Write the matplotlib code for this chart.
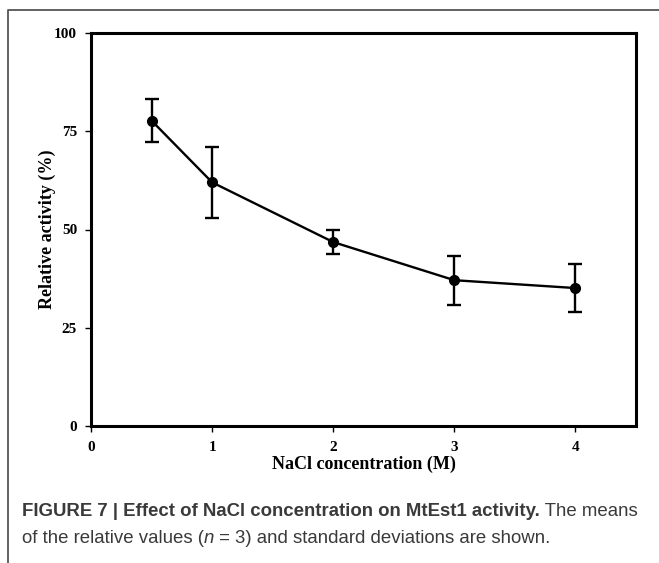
import matplotlib
matplotlib.use("Agg")
import matplotlib.pyplot as plt
from matplotlib.lines import Line2D

# NaCl (M) vs actividad relativa (%), media y desvio (n = 3)
nacl = [0.5, 1, 2, 3, 4]
actividad = [77.7, 62.0, 46.8, 37.1, 35.1]
desvio = [5.4, 9.0, 3.0, 6.2, 6.1]

x_ticks = [0, 1, 2, 3, 4]
y_ticks = [0, 25, 50, 75, 100]

titulo = "FIGURE 7 | Effect of NaCl concentration on MtEst1 activity."
resto_1 = " The means"
linea_2 = ["of the relative values (", "n", " = 3) and standard deviations are shown."]

serif = ["Liberation Serif", "DejaVu Serif"]
sans = ["Liberation Sans", "DejaVu Sans"]
gris = "#3a3a3a"

fig = plt.figure(figsize=(6.59, 5.63), dpi=100)
ax = fig.add_axes([91 / 659, 1 - 426 / 563, 545 / 659, 393 / 563])

ax.errorbar(nacl, actividad, yerr=desvio, color="black", lw=1.7,
            marker="o", markersize=7, capsize=5, capthick=1.7, elinewidth=1.7)

ax.set_xlim(0, 4.5)
ax.set_ylim(0, 100)
ax.set_xticks(x_ticks)
ax.set_yticks(y_ticks)
for s in ax.spines.values():
    s.set_linewidth(2.2)
ax.tick_params(direction="out", length=4, width=1, top=False, right=False)
ax.tick_params(axis="x", pad=7)
ax.tick_params(axis="y", pad=6)
for lab in ax.get_xticklabels() + ax.get_yticklabels():
    lab.set_family(serif)
    lab.set_fontweight("bold")
    lab.set_fontsize(11)
ax.set_xlabel("NaCl concentration (M)", family=serif, fontweight="bold", fontsize=13, labelpad=1)
ax.set_ylabel("Relative activity (%)", family=serif, fontweight="bold", fontsize=13, labelpad=-1)

# marco de la figura (arriba e izquierda)
fig.add_artist(Line2D([8 / 659, 8 / 659, 1], [0, 1 - 10 / 563, 1 - 10 / 563],
                      transform=fig.transFigure, color="#555555", lw=1.3))

# leyenda de la figura, con partes en negrita
fig.canvas.draw()
r = fig.canvas.get_renderer()


def escribir(partes, x, y):
    for texto, peso, estilo in partes:
        t = fig.text(x, y, texto, fontsize=13.4, family=sans, fontweight=peso,
                     style=estilo, color=gris, va="baseline")
        x += t.get_window_extent(r).width / fig.bbox.width


escribir([(titulo, "bold", "normal"), (resto_1, "normal", "normal")], 22 / 659, 1 - 516 / 563)
escribir([(linea_2[0], "normal", "normal"), (linea_2[1], "normal", "italic"),
          (linea_2[2], "normal", "normal")], 22 / 659, 1 - 543 / 563)

fig.savefig("out.png", dpi=100)
